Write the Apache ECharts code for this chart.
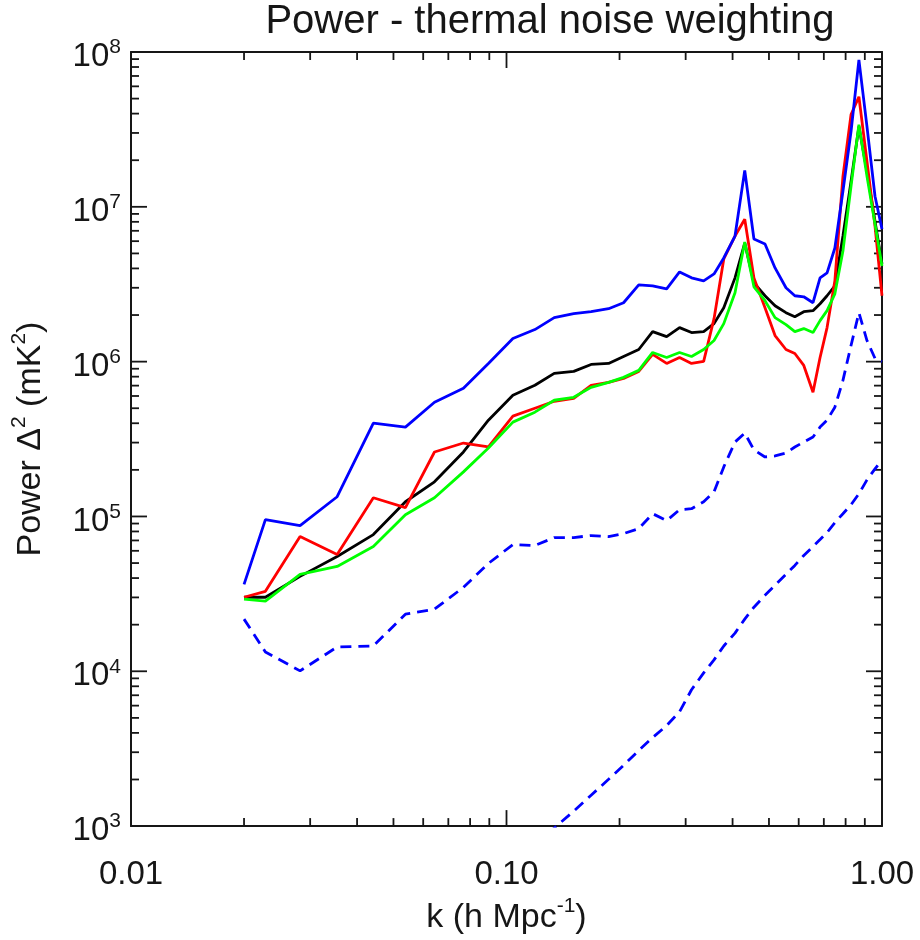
<!DOCTYPE html>
<html>
<head>
<meta charset="utf-8">
<title>Power - thermal noise weighting</title>
<script src="https://cdn.jsdelivr.net/npm/echarts@6/dist/echarts.min.js"></script>
<style>
  html, body { margin: 0; padding: 0; background: #ffffff; }
  #chart { width: 920px; height: 940px; }
</style>
</head>
<body>
<div id="chart"></div>
<script>
// Wavenumber bins, k (h Mpc^-1)
const kValues = [
  0.0200, 0.0228, 0.0282, 0.0354, 0.0442, 0.0538, 0.0643, 0.0768, 0.0895, 0.104,
  0.119, 0.134, 0.151, 0.168, 0.187, 0.205, 0.225, 0.245, 0.267, 0.289,
  0.311, 0.335, 0.357, 0.379, 0.406, 0.431, 0.456, 0.488, 0.519, 0.555,
  0.586, 0.619, 0.655, 0.684, 0.714, 0.749, 0.787, 0.827, 0.868, 0.912,
  0.958, 1.000
];

// Power Delta^2 (mK^2) for each weighting
const powerBlue = [
  36450, 95400, 87300, 134100, 400700, 377700, 546700, 672700, 974000, 1410000,
  1611000, 1924000, 2041000, 2102000, 2198000, 2402000, 3135000, 3088000, 2954000, 3798000,
  3476000, 3326000, 3687000, 4674000, 6474000, 17190000, 6193000, 5750000, 4030000, 2999000,
  2664000, 2624000, 2402000, 3476000, 3744000, 5419000, 12600000, 30600000, 88850000, 32960000,
  11700000, 7178000
];
const powerBlack = [
  30080, 30080, 41030, 55160, 76380, 124500, 167400, 260900, 418900, 606500,
  703500, 840000, 865000, 959000, 974000, 1080000, 1198000, 1564000, 1452000, 1659000,
  1541000, 1564000, 1760000, 2230000, 3476000, 5836000, 3228000, 2664000, 2297000, 2071000,
  1952000, 2102000, 2134000, 2366000, 2664000, 3088000, 6474000, 14600000, 33000000, 16930000,
  8080000, 4277000
];
const powerRed = [
  30080, 32860, 74170, 56810, 132100, 113900, 260900, 298100, 281000, 444400,
  500300, 554800, 580000, 703500, 735200, 779800, 865000, 1113000, 974000, 1064000,
  974000, 1003000, 1895000, 4604000, 6474000, 8320000, 3476000, 2230000, 1474000, 1198000,
  1129000, 945000, 634000, 1064000, 1659000, 3326000, 15730000, 39370000, 51380000, 19640000,
  7505000, 2664000
];
const powerGreen = [
  29200, 28350, 42270, 47570, 63940, 102700, 132100, 194100, 276800, 406800,
  471600, 563100, 588600, 682900, 735200, 791600, 878100, 1146000, 1064000, 1146000,
  1080000, 1198000, 1369000, 1760000, 2784000, 5923000, 3043000, 2474000, 1924000, 1734000,
  1564000, 1635000, 1541000, 1840000, 2134000, 2743000, 5184000, 13570000, 33960000, 15730000,
  7730000, 4153000
];
// Thermal noise levels (dashed)
const noiseUpper = [
  21720, 13330, 10060, 14350, 14570, 23380, 25180, 34860, 49730, 65870,
  64910, 73090, 73090, 75270, 74170, 77540, 83500, 104200, 93970, 110600,
  112200, 124500, 144300, 209000, 302500, 345600, 268800, 242300, 245900, 257000,
  281000, 302500, 325800, 377700, 418900, 507800, 757200, 1271000, 2071000, 1369000,
  1049000, 1003000
];
const noiseLower = [
  null, null, null, null, null, null, null, null, null, null,
  743, 971, 1249, 1582, 2005, 2467, 3079, 3733, 4459, 5484,
  7596, 9765, 11840, 14570, 17650, 21720, 25930, 30970, 35920, 42270,
  48290, 56000, 63940, 70950, 78690, 91250, 104200, 119100, 140100, 172400,
  202900, 231800
];

// Axis ranges and tick layout
const X_MIN = 0.01, X_MAX = 1;
const Y_MIN = 1e3, Y_MAX = 1e8;
const xDecades = [0.01, 0.1];
const yDecades = [1e3, 1e4, 1e5, 1e6, 1e7];
const minorSteps = [2, 3, 4, 5, 6, 7, 8, 9];

const FONT = "'Liberation Sans', Arial, sans-serif";
const INK = '#161616';
const MAJOR_LEN = 16, MINOR_LEN = 8;

function pairs(values) {
  const out = [];
  values.forEach((v, i) => { if (v != null) out.push([kValues[i], v]); });
  return out;
}

// Tick marks on all four sides, placed through the axis scales
const xTickData = [];
xDecades.forEach(d => minorSteps.forEach(m => xTickData.push([d * m, Y_MIN, MINOR_LEN])));
xTickData.push([0.1, Y_MIN, MAJOR_LEN]);
const yTickData = [];
yDecades.forEach(d => minorSteps.forEach(m => yTickData.push([X_MIN, d * m, MINOR_LEN])));
[1e4, 1e5, 1e6, 1e7].forEach(d => yTickData.push([X_MIN, d, MAJOR_LEN]));

function tickLine(x1, y1, x2, y2) {
  return { type: 'line', shape: { x1, y1, x2, y2 }, style: { stroke: INK, lineWidth: 1.8 } };
}
function renderXTick(params, api) {
  const x = api.value(0), len = api.value(2);
  const b = api.coord([x, Y_MIN]);
  const t = api.coord([x, Y_MAX]);
  return { type: 'group', children: [
    tickLine(b[0], b[1], b[0], b[1] - len),
    tickLine(t[0], t[1], t[0], t[1] + len)
  ]};
}
function renderYTick(params, api) {
  const y = api.value(1), len = api.value(2);
  const l = api.coord([X_MIN, y]);
  const r = api.coord([X_MAX, y]);
  return { type: 'group', children: [
    tickLine(l[0], l[1], l[0] + len, l[1]),
    tickLine(r[0], r[1], r[0] - len, r[1])
  ]};
}

const frameLine = { show: true, onZero: false, lineStyle: { color: INK, width: 2 } };
const hiddenAxisParts = {
  axisTick: { show: false },
  axisLabel: { show: false },
  splitLine: { show: false }
};
const supRich = {
  n: { fontSize: 34, lineHeight: 44, fontFamily: FONT, color: INK },
  s: { fontSize: 21, lineHeight: 22, verticalAlign: 'top', fontFamily: FONT, color: INK }
};

function solid(name, values, color) {
  return {
    name, type: 'line', data: pairs(values),
    showSymbol: false, symbol: 'none', silent: true,
    lineStyle: { color, width: 2.8 }, z: 3
  };
}
function dashed(name, values) {
  return {
    name, type: 'line', data: pairs(values),
    showSymbol: false, symbol: 'none', silent: true, clip: true,
    lineStyle: { color: '#0000ff', width: 2.8, type: [11, 7] }, z: 3
  };
}

const chart = echarts.init(document.getElementById('chart'), null, { renderer: 'canvas' });
chart.setOption({
  animation: false,
  backgroundColor: '#ffffff',
  graphic: [{
    type: 'text', x: 550, y: 22, silent: true,
    style: {
      text: 'Power - thermal noise weighting',
      font: '40px ' + FONT, fill: INK,
      textAlign: 'center', textVerticalAlign: 'middle'
    }
  }],
  grid: { left: 131, right: 38, top: 52, bottom: 106, containLabel: false },
  xAxis: [
    {
      type: 'log', logBase: 10, min: X_MIN, max: X_MAX, position: 'bottom',
      axisLine: frameLine, axisTick: { show: false }, splitLine: { show: false },
      axisLabel: {
        margin: 32, fontSize: 33, fontFamily: FONT, color: INK,
        showMinLabel: true, showMaxLabel: true,
        formatter: v => Number(v).toFixed(2)
      },
      name: '{n|k (h Mpc}{s|-1}{n|)}', nameLocation: 'middle', nameGap: 58,
      nameTextStyle: { rich: supRich }
    },
    Object.assign({ type: 'log', logBase: 10, min: X_MIN, max: X_MAX, position: 'top', axisLine: frameLine }, hiddenAxisParts)
  ],
  yAxis: [
    {
      type: 'log', logBase: 10, min: Y_MIN, max: Y_MAX, position: 'left',
      axisLine: frameLine, axisTick: { show: false }, splitLine: { show: false },
      axisLabel: {
        margin: 10, showMinLabel: true, showMaxLabel: true,
        padding: [10, 0, 0, 0],
        formatter: v => '{b|10}{s|' + Math.round(Math.log10(v)) + '}',
        rich: {
          b: { fontSize: 33, lineHeight: 40, fontFamily: FONT, color: INK },
          s: { fontSize: 21, lineHeight: 22, verticalAlign: 'top', fontFamily: FONT, color: INK }
        }
      },
      name: '{n|Power Δ}{s|2}{n| (mK}{s|2}{n|)}', nameLocation: 'middle', nameGap: 78,
      nameRotate: 90, nameTextStyle: { rich: supRich }
    },
    Object.assign({ type: 'log', logBase: 10, min: Y_MIN, max: Y_MAX, position: 'right', axisLine: frameLine }, hiddenAxisParts)
  ],
  series: [
    { type: 'custom', name: 'x ticks', data: xTickData, encode: { x: 0, y: 1 }, renderItem: renderXTick, silent: true, z: 1 },
    { type: 'custom', name: 'y ticks', data: yTickData, encode: { x: 0, y: 1 }, renderItem: renderYTick, silent: true, z: 1 },
    dashed('noise upper', noiseUpper),
    dashed('noise lower', noiseLower),
    solid('black', powerBlack, '#000000'),
    solid('red', powerRed, '#ff0000'),
    solid('green', powerGreen, '#00ff00'),
    solid('blue', powerBlue, '#0000ff')
  ]
});
</script>
</body>
</html>
